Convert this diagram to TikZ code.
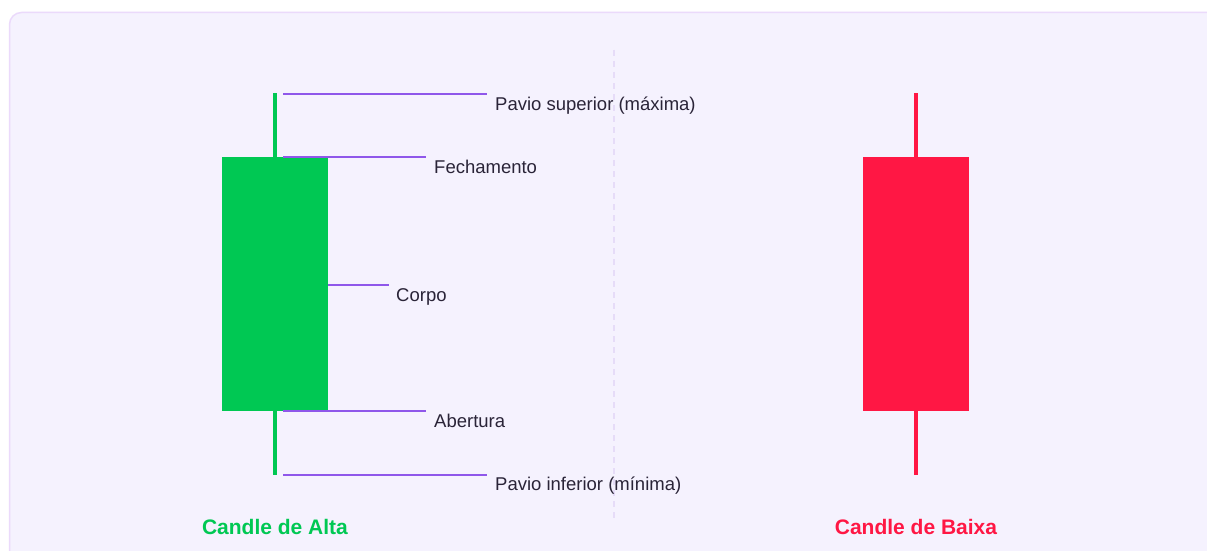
\documentclass[tikz,border=0pt]{standalone}
\usepackage{fontspec}
\setmainfont{Liberation Sans}
\definecolor{panelfill}{HTML}{F5F2FE}
\definecolor{panelborder}{HTML}{EBDAFB}
\definecolor{divider}{HTML}{E6DCF8}
\definecolor{bull}{HTML}{00C853}
\definecolor{bear}{HTML}{FF1744}
\definecolor{leader}{HTML}{8F57EA}
\definecolor{labeltext}{HTML}{2A2438}
\tikzset{
  body/.style={fill=#1, draw=none, minimum width=106pt, minimum height=254pt, inner sep=0pt},
  wick/.style={draw=#1, line width=4pt},
  leaderline/.style={draw=leader, line width=2pt},
  partlabel/.style={anchor=base west, inner sep=0pt, text=labeltext, font=\fontsize{18.5}{22}\selectfont},
  candletitle/.style={anchor=base, inner sep=0pt, text=#1, font=\fontsize{21}{25}\selectfont\bfseries}
}
\begin{document}
\begin{tikzpicture}[x=1pt,y=-1pt]
\useasboundingbox (0,0) rectangle (1207,551);
\fill[white] (0,0) rectangle (1207,551);
\begin{scope}
\clip (0,0) rectangle (1207,551);
\draw[panelborder, fill=panelfill, line width=1.5pt, rounded corners=12pt] (9.5,12.5) rectangle (1230,580);
\end{scope}
% divider
\draw[divider, line width=2pt, dash pattern=on 6pt off 5pt] (614,50) -- (614,520);
% bullish candle
\coordinate (gtop) at (275,93);
\coordinate (gbot) at (275,475);
\draw[wick=bull] (gtop) -- (gbot);
\node[body=bull] (gbody) at (275,284) {};
% bearish candle
\coordinate (rtop) at (916,93);
\coordinate (rbot) at (916,475);
\draw[wick=bear] (rtop) -- (rbot);
\node[body=bear] (rbody) at (916,284) {};
% leader lines
\coordinate (l1a) at (283,94); \coordinate (l1b) at (487,94);
\coordinate (l2a) at (283,157); \coordinate (l2b) at (426,157);
\coordinate (l3a) at (328,285); \coordinate (l3b) at (389,285);
\coordinate (l4a) at (283,411); \coordinate (l4b) at (426,411);
\coordinate (l5a) at (283,475); \coordinate (l5b) at (487,475);
\draw[leaderline] (l1a) -- (l1b);
\draw[leaderline] (l2a) -- (l2b);
\draw[leaderline] (l3a) -- (l3b);
\draw[leaderline] (l4a) -- (l4b);
\draw[leaderline] (l5a) -- (l5b);
% labels
\node[partlabel] (t1) at (495,110) {Pavio superior (máxima)};
\node[partlabel] (t2) at (434,173) {Fechamento};
\node[partlabel] (t3) at (396,301) {Corpo};
\node[partlabel] (t4) at (434,427) {Abertura};
\node[partlabel] (t5) at (495,490) {Pavio inferior (mínima)};
% titles
\node[candletitle=bull] (alta) at (275,534) {Candle de Alta};
\node[candletitle=bear] (baixa) at (916,534) {Candle de Baixa};
\end{tikzpicture}
\end{document}
